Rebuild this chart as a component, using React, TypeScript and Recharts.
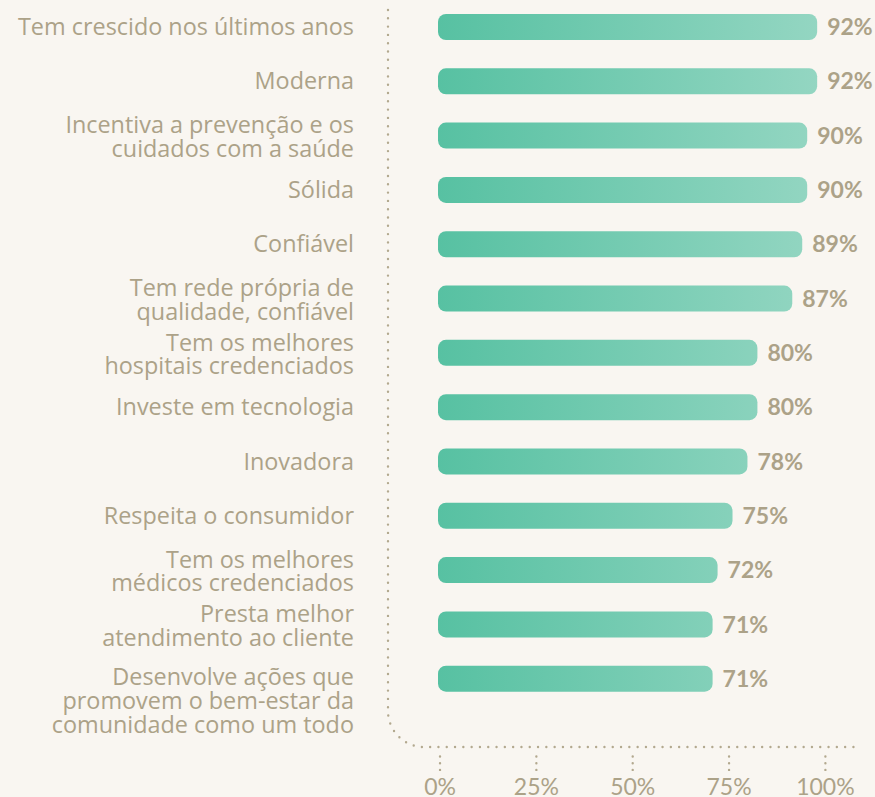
import React from "react";
import { BarChart, Bar, XAxis, YAxis, LabelList } from "recharts";

const categories = [
  "Tem crescido nos últimos anos",
  "Moderna",
  "Incentiva a prevenção e os\ncuidados com a saúde",
  "Sólida",
  "Confiável",
  "Tem rede própria de\nqualidade, confiável",
  "Tem os melhores\nhospitais credenciados",
  "Investe em tecnologia",
  "Inovadora",
  "Respeita o consumidor",
  "Tem os melhores\nmédicos credenciados",
  "Presta melhor\natendimento ao cliente",
  "Desenvolve ações que\npromovem o bem-estar da\ncomunidade como um todo",
];
const values = [92, 92, 90, 90, 89, 87, 80, 80, 78, 75, 72, 71, 71];
const tickValues = [0, 25, 50, 75, 100];

const data = categories.map((name, i) => ({ name, value: values[i] }));

const TEXT = "#aca288";
const DOT = "#b3a98f";
const BG = "#f9f6f1";
const LABEL_FONT = "'Open Sans', 'Noto Sans', sans-serif";
const NUM_FONT = "Lato, 'Open Sans', sans-serif";
const AXIS_Y = 747;

const CategoryTick = (props: any) => {
  const { x, y, payload } = props;
  const lines: string[] = String(payload.value).split("\n");
  const n = lines.length;
  const firstDy = n === 1 ? 8 : n === 2 ? -2.5 : 6.5;
  return (
    <text x={x} y={y} textAnchor="end" fill={TEXT} fontSize={23.4} fontWeight={500} fontFamily={LABEL_FONT}>
      {lines.map((l, i) => (
        <tspan key={i} x={x} dy={i === 0 ? firstDy : 23.6}>
          {l}
        </tspan>
      ))}
    </text>
  );
};

const PercentTick = (props: any) => {
  const { x, payload } = props;
  return (
    <g>
      <line
        x1={x}
        x2={x}
        y1={AXIS_Y + 9.5}
        y2={AXIS_Y + 23}
        stroke={DOT}
        strokeWidth={2.4}
        strokeLinecap="round"
        strokeDasharray="0 6.7"
      />
      <text x={x} y={AXIS_Y + 48} textAnchor="middle" fill={TEXT} fontSize={23} fontWeight={400} fontFamily={NUM_FONT}>
        {payload.value}%
      </text>
    </g>
  );
};

export default function App() {
  return (
    <div style={{ position: "absolute", left: 0, top: 0, width: 875, height: 797, background: BG, overflow: "hidden" }}>
      <BarChart
        width={875}
        height={797}
        data={data}
        layout="vertical"
        margin={{ top: 0, right: 18, bottom: 0, left: 0 }}
      >
        <defs>
          <linearGradient id="barGrad" gradientUnits="userSpaceOnUse" x1={438} y1={0} x2={857} y2={0}>
            <stop offset="0%" stopColor="#57c1a2" />
            <stop offset="100%" stopColor="#9ad8c5" />
          </linearGradient>
        </defs>
        <path
          d="M388,10 L388,711 A36,36 0 0 0 424,747 L857,747"
          fill="none"
          stroke={DOT}
          strokeWidth={2.4}
          strokeLinecap="round"
          strokeDasharray="0 8.3"
        />
        <XAxis
          xAxisId="b"
          type="number"
          domain={[15.85, 100]}
          allowDataOverflow
          padding={{ left: 50, right: 0 }}
          hide
        />
        <XAxis
          xAxisId="t"
          type="number"
          domain={[-13.5, 108.2]}
          allowDataOverflow
          ticks={tickValues}
          interval={0}
          axisLine={false}
          tickLine={false}
          tickSize={0}
          tickMargin={0}
          height={50}
          tick={<PercentTick />}
        />
        <YAxis
          type="category"
          dataKey="name"
          width={388}
          axisLine={false}
          tickLine={false}
          tickSize={0}
          tickMargin={34}
          interval={0}
          padding={{ top: 0, bottom: 41 }}
          tick={<CategoryTick />}
        />
        <Bar
          xAxisId="b"
          dataKey="value"
          barSize={26}
          radius={8}
          fill="url(#barGrad)"
          isAnimationActive={false}
        >
          <LabelList
            dataKey="value"
            position="right"
            offset={10}
            formatter={(v: any) => `${v}%`}
            style={{ fill: TEXT, fontSize: 23, fontWeight: 700, fontFamily: NUM_FONT }}
          />
        </Bar>
      </BarChart>
    </div>
  );
}
